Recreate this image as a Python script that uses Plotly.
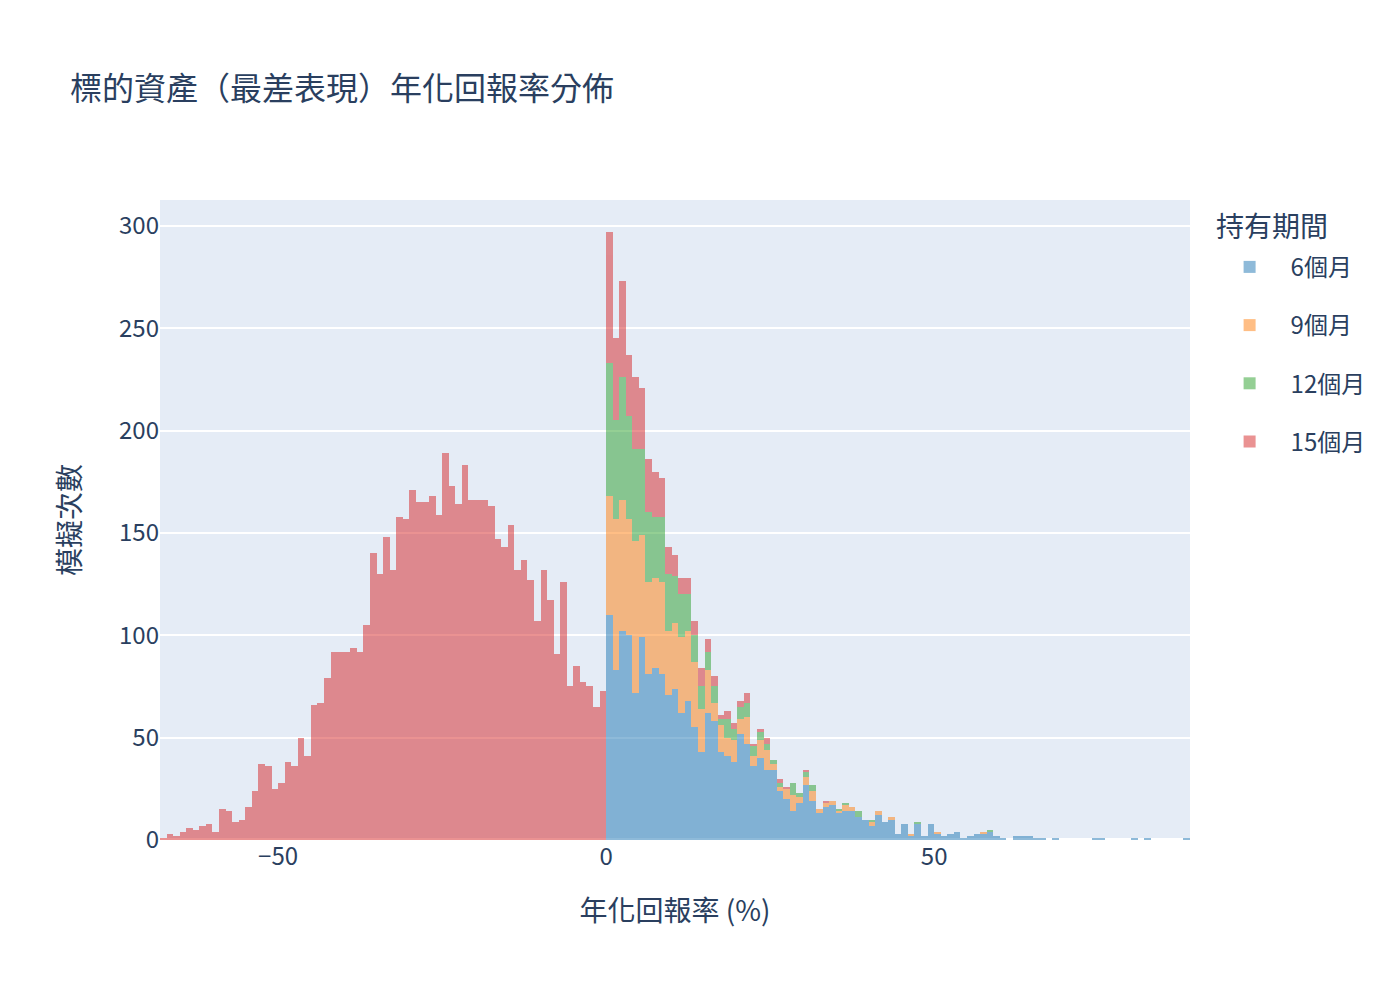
import plotly.graph_objects as go

# Bin left edges (bin width = 1 %)
bin_start = -68
bin_end = 89  # exclusive right edge

# 15-month counts for negative bins -68 .. -1
red_neg = [1, 3, 2, 4, 6, 5, 7, 8, 4, 15, 14, 9, 10, 16, 24, 37, 36, 25, 28, 38,
           36, 50, 41, 66, 67, 79, 92, 92, 92, 94, 92, 105, 140, 130, 148, 132, 158, 157, 171, 165,
           165, 168, 159, 189, 173, 164, 183, 166, 166, 166, 163, 147, 143, 154, 132, 137, 127, 107, 132, 117,
           91, 126, 75, 85, 77, 75, 65, 73]

# Counts for positive bins 0 .. 88
blue_pos = [110, 83, 102, 100, 72, 99, 81, 84, 81, 71, 74, 62, 68, 55, 43, 62, 58, 43, 41, 38,
            52, 47, 36, 40, 34, 34, 24, 20, 14, 18, 27, 19, 13, 16, 17, 13, 14, 14, 11, 10,
            7, 12, 9, 10, 3, 8, 2, 8, 2, 8, 3, 2, 3, 4, 1, 2, 3, 3, 4, 2,
            1, 0, 2, 2, 2, 1, 1, 0, 1, 0, 0, 0, 0, 0, 1, 1, 0, 0, 0, 0,
            1, 0, 1, 0, 0, 0, 0, 0, 1]
orange_pos = [58, 74, 64, 57, 74, 50, 45, 44, 45, 31, 32, 37, 34, 32, 21, 21, 9, 13, 9, 11,
              7, 13, 5, 9, 10, 3, 2, 5, 8, 3, 4, 5, 2, 2, 2, 1, 3, 2, 0, 0,
              2, 2, 0, 1, 0, 0, 1, 0, 0, 0, 1, 0, 0, 0, 0, 0, 0, 1]
green_pos = [65, 48, 60, 50, 45, 42, 34, 30, 32, 28, 23, 21, 18, 13, 11, 9, 8, 3, 9, 5,
             6, 7, 5, 4, 3, 2, 2, 0, 6, 2, 2, 3, 0, 0, 0, 1, 1, 0, 3, 0,
             1, 0, 0, 0, 0, 0, 0, 1, 0, 0, 0, 0, 0, 0, 0, 0, 0, 0, 1]
red_pos = [64, 40, 47, 30, 35, 30, 26, 22, 19, 13, 10, 8, 8, 7, 9, 6, 5, 2, 4, 3,
           3, 5, 1, 1, 3, 0, 2, 1, 0, 0, 1, 0, 0, 1]

series_names = ["6個月", "9個月", "12個月", "15個月"]
series_colors = ["#1f77b4", "#ff7f0e", "#2ca02c", "#d62728"]
legend_title = "持有期間"
x_ticks = [-50, 0, 50]

n_neg = -bin_start
n_pos = bin_end


def full(neg, pos):
    neg = list(neg) + [0] * (n_neg - len(neg))
    pos = list(pos) + [0] * (n_pos - len(pos))
    return neg + pos


counts = [
    full([], blue_pos),
    full([], orange_pos),
    full([], green_pos),
    full(red_neg, red_pos),
]
centers = [b + 0.5 for b in range(bin_start, bin_end)]

fig = go.Figure()
for name, color, ys in zip(series_names, series_colors, counts):
    fig.add_trace(go.Bar(
        x=centers, y=ys, name=name, width=1, legendgroup=name,
        marker=dict(color=color, line=dict(width=0)),
        opacity=0.5,
    ))

font_family = "Noto Sans CJK TC"
fig.update_layout(
    width=1400, height=1000,
    barmode="stack", bargap=0,
    font=dict(family=font_family, size=24, color="#2a3f5f"),
    title=dict(text="標的資產（最差表現）年化回報率分佈", font=dict(size=32), x=0.05),
    legend=dict(font=dict(size=24), traceorder="grouped", tracegroupgap=24,
                x=1.02, xanchor="left", y=0.93, yanchor="top",
                itemwidth=72, indentation=-2),
    margin=dict(l=160, r=210, t=200, b=160, autoexpand=False),
    plot_bgcolor="#E5ECF6",
    annotations=[dict(text=legend_title, xref="paper", yref="paper",
                      x=1.023, y=0.961, xanchor="left", yanchor="middle",
                      showarrow=False, font=dict(size=28))],
)
fig.update_xaxes(title=dict(text="年化回報率 (%)", font=dict(size=28), standoff=30),
                 showgrid=False, zeroline=False, automargin=False,
                 tickvals=x_ticks, range=[bin_start, bin_end])
fig.update_yaxes(title=dict(text="模擬次數", font=dict(size=28), standoff=30),
                 automargin=False,
                 gridcolor="white", gridwidth=2, zerolinecolor="white", zerolinewidth=4)

fig.write_html("out.html", config={"displayModeBar": False},
               post_script="document.body.style.margin='0';")
